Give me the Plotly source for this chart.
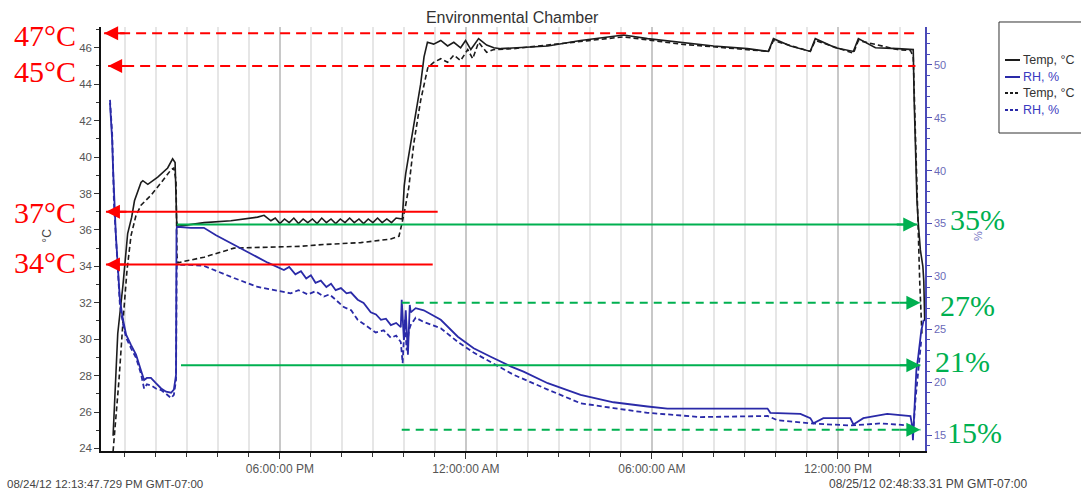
import pandas as pd
import plotly.graph_objects as go

BASE = pd.Timestamp("2012-08-24 12:00:00")
T_START = pd.Timestamp("2012-08-24 12:13:47.729")
T_END = pd.Timestamp("2012-08-25 14:48:33.310")

# ---- data: hours after 12:00 PM on 08/24/12 ----
temp1_h = [0.62, 0.71, 0.77, 0.94, 1.09, 1.22, 1.31, 1.52, 1.58, 1.74, 2.06, 2.38, 2.54, 2.62, 2.67, 2.70,
           3.56, 4.42, 5.28, 5.49, 5.71, 5.85, 6.0, 6.15, 6.3, 6.45, 6.6, 6.75, 6.9, 7.05, 7.2, 7.35, 7.5,
           7.65, 7.8, 7.95, 8.1, 8.25, 8.4, 8.55, 8.7, 8.85, 9.0, 9.15, 9.3, 9.45, 9.6, 9.75, 9.95,
           10.01, 10.06, 10.22, 10.38, 10.54, 10.65, 10.76, 10.96, 11.19, 11.41, 11.61, 11.83, 11.99, 12.16,
           12.41, 12.67, 12.90, 13.12, 13.54, 14.64, 15.70, 16.76, 17.09, 17.86, 18.92, 19.99, 21.08, 21.76,
           21.92, 22.47, 23.11, 23.27, 23.92, 24.50, 24.66, 25.21, 25.92, 26.40, 26.43, 26.46, 26.50, 26.55,
           26.60, 26.66, 26.74, 26.77, 26.80]
temp1_v = [24.7, 28.5, 30.3, 33.0, 35.8, 36.7, 37.6, 38.6, 38.7, 38.5, 38.9, 39.4, 39.9, 39.7, 36.5, 36.2,
           36.4, 36.5, 36.7, 36.8, 36.5, 36.65, 36.35, 36.6, 36.4, 36.65, 36.35, 36.6, 36.4, 36.6, 36.35,
           36.65, 36.4, 36.6, 36.35, 36.6, 36.4, 36.65, 36.4, 36.6, 36.35, 36.6, 36.4, 36.65, 36.4, 36.6,
           36.4, 36.65, 36.6,
           38.4, 39.1, 40.75, 42.4, 44.0, 45.5, 46.3, 46.2, 46.4, 46.1, 46.3, 46.0, 46.4, 45.9,
           46.5, 46.15, 46.0, 45.95, 46.0, 46.1, 46.4, 46.6, 46.7, 46.5, 46.3, 46.1, 45.95, 45.8,
           46.5, 46.1, 45.8, 46.5, 46.0, 45.8, 46.5, 46.0, 45.95, 45.9, 45.9, 43.1, 40.4, 37.6,
           36.2, 34.9, 34.0, 33.2, 31.0]

rh1_h = [0.52, 0.59, 0.62, 0.66, 0.71, 0.78, 0.84, 0.94, 1.04, 1.20, 1.36, 1.52, 1.62, 1.71, 1.84, 2.00,
         2.17, 2.33, 2.49, 2.58, 2.65, 2.665, 2.68, 3.13, 3.55, 3.94, 4.52, 5.07, 5.61, 6.13, 6.3, 6.5, 6.68,
         6.85, 7.0, 7.15, 7.32, 7.5, 7.65, 7.8, 7.97, 8.15, 8.29, 8.51, 8.7, 8.93, 9.1, 9.26, 9.42, 9.58,
         9.75, 9.90, 9.93, 10.00, 10.06, 10.13, 10.19, 10.22,
         10.38, 10.64, 11.19, 11.74, 12.25, 12.80, 13.44, 13.86, 14.64, 15.70, 16.76, 17.86, 18.50, 21.73,
         21.82, 22.79, 23.11, 23.21, 23.53, 24.40, 24.50, 24.82, 25.59, 26.34, 26.40, 26.42, 26.53, 26.59,
         26.69, 26.77]
rh1_v = [46.4, 42.9, 40.1, 37.2, 33.9, 30.6, 27.8, 25.9, 24.5, 23.5, 22.6, 21.1, 20.2, 20.4, 20.4, 19.9,
         19.4, 19.1, 19.0, 19.3, 20.7, 34.4, 34.7, 34.6, 34.6, 33.9, 33.0, 32.2, 31.3, 30.6, 30.9, 30.2, 30.5,
         29.8, 30.1, 29.4, 29.6, 29.0, 29.3, 28.7, 28.9, 28.4, 28.5, 27.8, 27.5, 26.6, 26.4, 25.9, 26.0, 25.4,
         25.6, 25.2, 27.8, 24.0, 26.8, 22.6, 27.3, 26.6,
         27.0, 26.8, 25.9, 24.3, 23.2, 22.4, 21.5, 21.0, 19.9, 18.8, 18.1, 17.7, 17.5, 17.5,
         17.1, 17.0, 16.6, 16.1, 16.6, 16.6, 16.0, 16.6, 17.0, 16.8, 15.8, 14.5, 21.1, 22.4,
         24.9, 25.9]

temp2_h = [0.62, 0.71, 0.81, 0.94, 1.07, 1.20, 1.36, 1.52, 1.84, 2.17, 2.49, 2.58, 2.65, 2.68, 2.71,
           3.55, 4.52, 5.61, 6.68, 7.42, 8.61, 9.58, 9.84, 9.93, 10.03, 10.16, 10.32, 10.54, 10.77,
           10.96, 11.19, 11.41, 11.61, 11.83, 12.06, 12.22, 12.41, 12.67, 12.90, 13.54, 15.70, 17.09,
           18.92, 21.08, 21.76, 21.92, 23.11, 23.27, 24.50, 24.66, 25.92, 26.34, 26.43, 26.50, 26.56,
           26.59, 26.64, 26.71]
temp2_v = [23.85, 25.55, 27.75, 31.0, 33.8, 35.7, 36.8, 37.35, 37.9, 38.6, 39.3, 39.4, 38.7, 34.6, 34.2,
           34.5, 35.0, 35.05, 35.1, 35.2, 35.3, 35.5, 35.65, 36.3, 37.1, 38.35, 40.75, 43.1, 44.9,
           45.2, 45.4, 45.2, 45.6, 45.3, 45.9, 45.4, 46.3, 45.75, 45.9, 45.95, 46.35, 46.6,
           46.2, 45.9, 45.8, 46.4, 45.8, 46.4, 45.7, 46.4, 45.9, 45.85, 45.5, 41.3, 37.6,
           35.8, 33.1, 30.3]

rh2_h = [0.52, 0.59, 0.65, 0.71, 0.78, 0.84, 0.94, 1.04, 1.20, 1.36, 1.52, 1.62, 1.71, 1.84, 2.00, 2.17,
         2.33, 2.49, 2.58, 2.65, 2.67, 2.68, 3.13, 3.55, 4.52, 5.29, 6.35, 6.6, 6.9, 7.15, 7.42, 7.6, 7.8,
         8.06, 8.3, 8.51, 8.8, 9.09, 9.35, 9.58, 9.75, 9.90, 9.96, 10.03, 10.09, 10.16, 10.22, 10.38, 10.64,
         11.19, 11.74, 12.25, 12.80, 13.54,
         14.64, 15.70, 16.76, 17.86, 19.57, 21.73, 22.05, 23.11, 24.40, 25.37, 26.34, 26.43, 26.50, 26.59,
         26.69]
rh2_v = [46.7, 43.5, 36.8, 33.5, 30.0, 27.3, 25.5, 24.2, 23.2, 22.3, 20.8, 19.4, 19.8, 19.7, 19.4, 19.25,
         18.9, 18.5, 18.8, 20.2, 30.6, 31.1, 31.1, 31.0, 29.85, 29.0, 28.4, 28.7, 28.3, 28.6, 28.1, 28.3, 27.8,
         27.1, 26.8, 25.9, 25.3, 24.7, 24.9, 24.2, 24.4, 23.8, 21.8, 25.9, 23.0, 24.9, 25.4, 26.1, 25.7,
         25.1, 23.8, 22.8, 21.9, 20.7,
         19.3, 18.0, 17.55, 17.1, 16.7, 16.8, 16.4, 16.1, 15.9, 16.1, 15.9, 15.3, 18.3, 21.1,
         24.0]

# ---- axis ticks / labels ----
x_tick_hours = [6, 12, 18, 24]
x_tick_text = ["06:00:00 PM", "12:00:00 AM", "06:00:00 AM", "12:00:00 PM"]
start_label = "08/24/12 12:13:47.729 PM GMT-07:00"
end_label = "08/25/12 02:48:33.31 PM GMT-07:00"

# ---- reference markers ----
red_labels = ["47°C", "45°C", "37°C", "34°C"]
red_levels = [46.8, 45.0, 37.0, 34.1]
red_dashed = [True, True, False, False]
red_tail_h = [26.59, 26.50, 11.09, 10.93]
red_tip_h = [0.33, 0.46, 0.39, 0.39]
red_text_y = [0.979, 0.896, 0.5625, 0.4446]

green_labels = ["35%", "27%", "21%", "15%"]
green_levels = [34.9, 27.5, 21.6, 15.5]
green_dashed = [False, True, False, True]
green_tail_h = [2.68, 9.93, 2.81, 9.93]
green_tip_h = [26.56, 26.66, 26.66, 26.66]
green_text_x = [1.028, 1.016, 1.010, 1.024]
green_text_y = [0.547, 0.344, 0.210, 0.0425]

# ---- legend entries ----
legend_names = ["Temp, °C", "RH, %", "Temp, °C", "RH, %"]
legend_y = [0.9222, 0.8821, 0.8443, 0.8042]


def ts(hours):
    return [BASE + pd.Timedelta(hours=h) for h in hours]


BLACK = "#1c1c1c"
BLUE = "#2a2aa8"
RED = "#ff0000"
GREEN = "#00b050"
DASH = "5px,3px"

series = [
    (temp1_h, temp1_v, "y", BLACK, 1.6, "solid"),
    (rh1_h, rh1_v, "y2", BLUE, 1.8, "solid"),
    (temp2_h, temp2_v, "y", BLACK, 1.6, DASH),
    (rh2_h, rh2_v, "y2", BLUE, 1.8, DASH),
]

fig = go.Figure()
for (hh, vv, ax, col, w, dsh), nm in zip(series, legend_names):
    fig.add_trace(go.Scatter(x=ts(hh), y=vv, mode="lines", yaxis=ax, name=nm, showlegend=False,
                             line=dict(color=col, width=w, dash=dsh)))

shapes = []
annotations = []

for lab, lev, dsh, tail, tip, ty in zip(red_labels, red_levels, red_dashed, red_tail_h, red_tip_h, red_text_y):
    t_tail, t_tip = ts([tail, tip])
    shapes.append(dict(type="line", xref="x", yref="y", x0=t_tip, x1=t_tail, y0=lev, y1=lev,
                       line=dict(color=RED, width=2, dash="10px,6px" if dsh else "solid")))
    annotations.append(dict(x=t_tip, y=lev, xref="x", yref="y", ax=22, ay=0, text="",
                            showarrow=True, arrowhead=2, arrowsize=1.4, arrowwidth=2, arrowcolor=RED,
                            standoff=0))
    annotations.append(dict(x=-0.068, y=ty, xref="paper", yref="paper", text=lab, showarrow=False,
                            xanchor="center", yanchor="middle",
                            font=dict(family="Liberation Serif", size=30, color=RED)))

for lab, lev, dsh, tail, tip, tx, ty in zip(green_labels, green_levels, green_dashed, green_tail_h,
                                            green_tip_h, green_text_x, green_text_y):
    t_tail, t_tip = ts([tail, tip])
    shapes.append(dict(type="line", xref="x", yref="y2", x0=t_tail, x1=t_tip, y0=lev, y1=lev,
                       line=dict(color=GREEN, width=2, dash="8px,6px" if dsh else "solid")))
    annotations.append(dict(x=t_tip, y=lev, xref="x", yref="y2", ax=-22, ay=0, text="",
                            showarrow=True, arrowhead=2, arrowsize=1.4, arrowwidth=2, arrowcolor=GREEN,
                            standoff=0))
    annotations.append(dict(x=tx, y=ty, xref="paper", yref="paper", text=lab, showarrow=False,
                            xanchor="left", yanchor="middle",
                            font=dict(family="Liberation Serif", size=30, color=GREEN)))

# legend box drawn by hand (short line samples as in the original)
shapes.append(dict(type="rect", xref="paper", yref="paper", x0=1.0898, x1=1.21, y0=0.75, y1=1.0118,
                   line=dict(color="#333", width=1), fillcolor="white", layer="above"))
for (hh, vv, ax, col, w, dsh), nm, ly in zip(series, legend_names, legend_y):
    shapes.append(dict(type="line", xref="paper", yref="paper", x0=1.0971, x1=1.1153, y0=ly, y1=ly,
                       line=dict(color=col, width=2, dash="3px,2px" if dsh != "solid" else "solid"),
                       layer="above"))
    annotations.append(dict(x=1.1165, y=ly, xref="paper", yref="paper", text=nm, showarrow=False,
                            xanchor="left", yanchor="middle",
                            font=dict(family="Liberation Sans", size=12.5,
                                      color="#3a3ac0" if col == BLUE else "#333")))

# axis titles and corner time stamps
annotations.append(dict(x=-0.066, y=0.507, xref="paper", yref="paper", text="°C", showarrow=False,
                        xanchor="center", yanchor="middle",
                        textangle=-90, font=dict(family="Liberation Sans", size=12, color="#444")))
annotations.append(dict(x=1.0643, y=0.507, xref="paper", yref="paper", text="%", showarrow=False,
                        xanchor="center", yanchor="middle",
                        textangle=-90, font=dict(family="Liberation Sans", size=11, color="#7070c0")))
annotations.append(dict(x=0.126, y=-0.078, xref="paper", yref="paper", text=start_label, showarrow=False,
                        xanchor="right", yanchor="middle",
                        font=dict(family="Liberation Sans", size=11.5, color="#444")))
annotations.append(dict(x=0.881, y=-0.078, xref="paper", yref="paper", text=end_label, showarrow=False,
                        xanchor="left", yanchor="middle",
                        font=dict(family="Liberation Sans", size=12, color="#444")))

fig.update_layout(
    width=1081, height=491,
    margin=dict(l=101, r=156, t=27, b=40, autoexpand=False),
    paper_bgcolor="white", plot_bgcolor="white",
    font=dict(family="Liberation Sans", size=11, color="#444"),
    title=dict(text="Environmental Chamber", xref="paper", x=0.499, xanchor="center",
               y=0.964, yanchor="middle",
               font=dict(family="Liberation Sans", size=16, color="#333")),
    showlegend=False,
    shapes=shapes,
    annotations=annotations,
    xaxis=dict(
        type="date", range=[T_START, T_END],
        tickvals=ts(x_tick_hours), ticktext=x_tick_text,
        ticks="outside", ticklen=6, tickcolor="#333",
        showline=True, linecolor="#111", linewidth=1.5,
        showgrid=True, gridcolor="#c8c8c8", gridwidth=1.5,
        minor=dict(dtick=3600000, tick0=BASE, ticks="outside", ticklen=4, tickcolor="#333",
                   showgrid=True, gridcolor="#e6e6e6", gridwidth=1.5),
        tickfont=dict(size=12, color="#555"),
        zeroline=False,
    ),
    yaxis=dict(
        range=[23.86, 47.14], dtick=2, tick0=0,
        ticks="outside", ticklen=5, tickcolor="#333",
        showline=True, linecolor="#111", linewidth=1.5,
        showgrid=False, zeroline=False,
        minor=dict(dtick=1, ticks="outside", ticklen=3, tickcolor="#333"),
        tickfont=dict(size=11.5, color="#555"),
    ),
    yaxis2=dict(
        range=[13.49, 53.59], dtick=5, tick0=0, overlaying="y", side="right",
        ticks="outside", ticklen=5, tickcolor="#4a4ab8",
        showline=True, linecolor="#4a4ab8", linewidth=1.5,
        showgrid=False, zeroline=False,
        minor=dict(dtick=1, ticks="outside", ticklen=3, tickcolor="#4a4ab8"),
        tickfont=dict(size=11, color="#6a6ab8"),
    ),
)

fig.write_html("out.html", config={"displayModeBar": False},
               post_script="document.body.style.margin='0px';")
